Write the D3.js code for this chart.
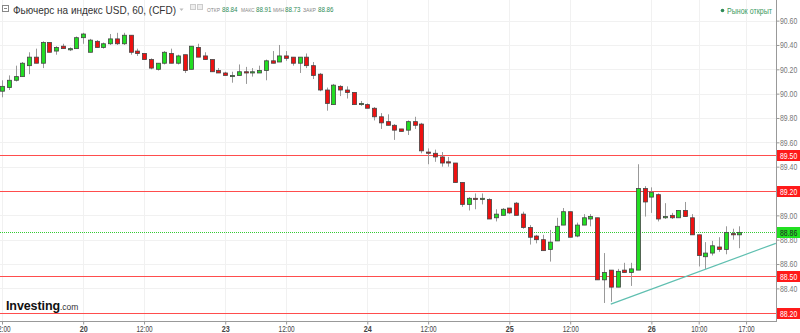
<!DOCTYPE html>
<html><head><meta charset="utf-8">
<script src="https://cdnjs.cloudflare.com/ajax/libs/d3/7.8.5/d3.min.js"></script>
<style>html,body{margin:0;padding:0;background:#fff;overflow:hidden}svg{display:block}</style>
</head><body>
<script>
// ---- data (hourly candles) ----
const openP = [90.02,90.05,90.11,90.14,90.23,90.30,90.25,90.42,90.35,90.39,
90.36,90.37,90.46,90.34,90.43,90.38,90.41,90.45,90.41,90.48,
90.35,90.33,90.28,90.20,90.25,90.33,90.25,90.32,90.20,90.38,
90.31,90.28,90.19,90.17,90.14,90.15,90.18,90.17,90.17,90.19,
90.27,90.26,90.31,90.30,90.25,90.30,90.23,90.16,90.03,89.91,
90.06,90.03,90.01,89.91,89.91,89.88,89.81,89.77,89.74,89.71,
89.70,89.77,89.75,89.52,89.51,89.48,89.44,89.43,89.27,89.09,
89.14,89.13,89.13,88.98,89.00,89.06,89.10,89.01,88.90,88.83,
88.80,88.72,88.79,88.92,89.03,88.83,88.92,88.97,88.98,88.47,
88.55,88.41,88.55,88.53,88.55,89.22,89.15,89.17,88.98,89.00,
88.98,89.04,88.98,88.84,88.66,88.69,88.74,88.72,88.85,88.84];
const highP = [90.11,90.15,90.23,90.26,90.34,90.37,90.43,90.42,90.39,90.41,
90.38,90.47,90.50,90.45,90.44,90.42,90.49,90.50,90.50,90.48,
90.37,90.33,90.29,90.25,90.35,90.37,90.32,90.32,90.39,90.41,
90.34,90.28,90.21,90.18,90.18,90.24,90.22,90.21,90.23,90.28,
90.35,90.40,90.35,90.30,90.30,90.33,90.26,90.17,90.05,90.08,
90.07,90.06,90.01,89.94,89.92,89.89,89.84,89.83,89.75,89.71,
89.78,89.81,89.76,89.55,89.54,89.52,89.48,89.43,89.27,89.15,
89.18,89.18,89.14,89.05,89.06,89.06,89.11,89.03,88.92,88.84,
88.84,88.88,88.98,89.06,89.03,88.94,89.01,89.01,88.98,88.69,
88.55,88.56,88.61,88.61,89.42,89.24,89.23,89.18,89.10,89.02,
89.04,89.11,89.01,88.84,88.78,88.79,88.82,88.91,88.89,88.91];
const lowP = [89.97,90.03,90.10,90.14,90.16,90.25,90.21,90.34,90.32,90.37,
90.35,90.37,90.41,90.34,90.38,90.37,90.40,90.40,90.40,90.32,
90.31,90.28,90.20,90.19,90.24,90.25,90.24,90.17,90.20,90.30,
90.28,90.18,90.17,90.15,90.09,90.15,90.08,90.14,90.17,90.11,
90.25,90.26,90.27,90.23,90.17,90.21,90.12,90.02,89.86,89.91,
89.98,89.96,89.91,89.90,89.88,89.78,89.71,89.74,89.62,89.69,
89.66,89.71,89.51,89.42,89.44,89.40,89.40,89.27,89.07,89.04,
89.05,89.09,88.97,88.95,89.00,89.01,89.00,88.89,88.76,88.77,
88.71,88.62,88.79,88.92,88.82,88.82,88.92,88.91,88.47,88.28,
88.29,88.41,88.53,88.42,88.55,88.99,89.02,88.95,88.97,88.97,
88.98,88.99,88.84,88.58,88.56,88.67,88.70,88.68,88.80,88.73];
const closeP = [90.06,90.11,90.14,90.25,90.30,90.25,90.42,90.34,90.38,90.37,
90.37,90.46,90.49,90.44,90.38,90.41,90.45,90.41,90.48,90.34,
90.33,90.28,90.21,90.25,90.34,90.25,90.31,90.19,90.39,90.30,
90.28,90.18,90.17,90.15,90.15,90.18,90.17,90.18,90.19,90.27,
90.25,90.31,90.29,90.25,90.30,90.23,90.15,90.03,89.92,90.07,
90.03,90.01,89.91,89.92,89.88,89.81,89.76,89.74,89.70,89.69,
89.77,89.74,89.53,89.51,89.48,89.43,89.43,89.27,89.09,89.14,
89.13,89.14,88.97,89.01,89.05,89.02,89.00,88.90,88.82,88.80,
88.71,88.78,88.91,89.03,88.82,88.92,88.98,88.99,88.47,88.53,
88.41,88.54,88.53,88.56,89.22,89.11,89.19,88.97,88.99,88.98,
89.04,88.99,88.84,88.67,88.69,88.75,88.72,88.86,88.84,88.86];

const xTickIndex  = [0, 12, 21, 33, 42, 54, 63, 75, 84, 96, 103, 110];
const xTickLabels = ["12:00","20","12:00","23","12:00","24","12:00","25","12:00","26","10:00","17:00"];
const xTickIsDay  = [false,true,false,true,false,true,false,true,false,true,false,false];
const yTicks = [90.6,90.4,90.2,90.0,89.8,89.6,89.4,89.2,89.0,88.8,88.6,88.4,88.2];
const levels = [89.50, 89.20, 88.50, 88.20];
const lastPrice = 88.86;
const trendIdx = [90, 114.4];
const trendPrice = [88.27, 88.77];

const headerTitle = "Фьючерс на индекс USD, 60, (CFD)";
const ohlcLabels = ["ОТКР","МАКС","МИН","ЗАКР"];
const ohlcValues = ["88.84","88.91","88.73","88.86"];
const marketStatus = "Рынок открыт";

// ---- drawing ----
const W = 800, H = 333;
const plotRight = 776, plotBottom = 321;
const FONT = "'Liberation Sans', Arial, sans-serif";
const NARROW = "'Liberation Sans Narrow', 'Liberation Sans', Arial, sans-serif";
const svg = d3.select("body").append("svg").attr("width", W).attr("height", H)
  .style("font-family", FONT);

function numWidth(s, dw){ let w=0; for(const c of s){ w += (c==="."||c===":")?1.7:dw; } return w; }
function fit(sel, w){ sel.attr("textLength", w).attr("lengthAdjust","spacingAndGlyphs"); return sel; }

const x = d3.scaleLinear().domain([0, 109]).range([2, 739.3]);
const y = d3.scaleLinear().domain([88.2, 89.5]).range([312.7, 154.5]);

svg.append("defs").append("clipPath").attr("id","plotclip")
  .append("rect").attr("x",0).attr("y",0).attr("width",plotRight).attr("height",plotBottom);

// grid
const grid = svg.append("g");
grid.selectAll("line.h").data(yTicks).join("line")
  .attr("x1",0).attr("x2",plotRight).attr("y1",d=>Math.round(y(d))+0.5).attr("y2",d=>Math.round(y(d))+0.5)
  .attr("stroke","#f1f1f1");
grid.selectAll("line.v").data(xTickIndex).join("line")
  .attr("x1",d=>Math.round(x(d))+0.5).attr("x2",d=>Math.round(x(d))+0.5).attr("y1",0).attr("y2",plotBottom)
  .attr("stroke","#f1f1f1");

// header
const hdr = svg.append("g");
hdr.append("rect").attr("x",2.5).attr("y",5.5).attr("width",6).attr("height",6).attr("fill","none").attr("stroke","#888");
hdr.append("line").attr("x1",4).attr("x2",7).attr("y1",8.5).attr("y2",8.5).attr("stroke","#888");
fit(hdr.append("text").attr("x",13).attr("y",13.5).attr("font-size",10.2).attr("fill","#333").text(headerTitle), 163);
hdr.append("path").attr("d","M179.5,8.5 h4 l-2,2.5 z").attr("fill","#bbb");
hdr.append("rect").attr("x",190.5).attr("y",4.5).attr("width",5).attr("height",5).attr("fill","#eee").attr("stroke","#ccc");
hdr.append("rect").attr("x",197.5).attr("y",4.5).attr("width",5).attr("height",5).attr("fill","#eee").attr("stroke","#ccc");
const ohlcX = [207, 241, 273, 303];
const ohlcLW = [13, 13.5, 11, 13];
const ohlcVX = [222, 256, 285, 318];
ohlcLabels.forEach((l,i)=>{
  fit(hdr.append("text").attr("x",ohlcX[i]).attr("y",12).attr("font-family",NARROW).attr("font-size",6).attr("fill","#888").text(l), ohlcLW[i]);
  fit(hdr.append("text").attr("x",ohlcVX[i]).attr("y",12).attr("font-family",NARROW).attr("font-size",7.4).attr("fill","#2e8b57").text(ohlcValues[i]), 15.5);
});
hdr.append("circle").attr("cx",722.5).attr("cy",10.5).attr("r",1.8).attr("fill","#2e8b57");
fit(hdr.append("text").attr("x",727).attr("y",13.5).attr("font-family",NARROW).attr("font-size",8.5).attr("fill","#3a9a60").text(marketStatus), 45);

// logo
const logo = svg.append("text").attr("x",6).attr("y",309.5);
logo.append("tspan").attr("font-size",12.5).attr("font-weight","bold").attr("fill","#111").attr("letter-spacing",-0.1).text("Investing");
logo.append("tspan").attr("font-size",8.5).attr("fill","#333").text(".com");

// level lines
const plot = svg.append("g").attr("clip-path","url(#plotclip)");
plot.selectAll("line.lvl").data(levels).join("line")
  .attr("x1",0).attr("x2",plotRight).attr("y1",d=>Math.round(y(d))+0.5).attr("y2",d=>Math.round(y(d))+0.5)
  .attr("stroke","#ff4d4d").attr("stroke-width",1);
plot.append("line").attr("x1",0).attr("x2",plotRight)
  .attr("y1",Math.round(y(lastPrice))+0.5).attr("y2",Math.round(y(lastPrice))+0.5)
  .attr("stroke","#33cc33").attr("stroke-dasharray","1,1");
// trend line
plot.append("line").attr("x1",x(trendIdx[0])).attr("y1",y(trendPrice[0]))
  .attr("x2",x(trendIdx[1])).attr("y2",y(trendPrice[1])).attr("stroke","#5fbfb0").attr("stroke-width",1.2);

// candles
const idx = d3.range(openP.length);
const cg = plot.append("g");
cg.selectAll("line.wick").data(idx).join("line")
  .attr("x1",i=>Math.round(x(i))+0.5).attr("x2",i=>Math.round(x(i))+0.5)
  .attr("y1",i=>y(highP[i])).attr("y2",i=>y(lowP[i]))
  .attr("stroke","#999");
cg.selectAll("rect.body").data(idx).join("rect")
  .attr("x",i=>Math.round(x(i))-1.5).attr("width",4)
  .attr("y",i=>y(Math.max(openP[i],closeP[i])))
  .attr("height",i=>Math.max(1, y(Math.min(openP[i],closeP[i]))-y(Math.max(openP[i],closeP[i]))))
  .attr("fill",i=>closeP[i]>=openP[i]?"#22dd22":"#ee1111")
  .attr("stroke","#444").attr("stroke-width",0.8);

// axes
svg.append("line").attr("x1",plotRight+0.5).attr("x2",plotRight+0.5).attr("y1",0).attr("y2",plotBottom+1).attr("stroke","#999");
svg.append("line").attr("x1",0).attr("x2",plotRight+1).attr("y1",plotBottom+0.5).attr("y2",plotBottom+0.5).attr("stroke","#999");

const yAxis = d3.axisRight(y).tickValues(yTicks).tickSize(3).tickFormat(d3.format(".2f"));
const ya = svg.append("g").attr("transform",`translate(${plotRight+0.5},0)`).call(yAxis);
ya.select(".domain").remove();
ya.selectAll("line").attr("stroke","#999");
ya.selectAll("text").attr("font-size",8.5).attr("fill","#777").attr("x",3.5).attr("font-family",NARROW)
  .attr("textLength",d=>numWidth(d3.format(".2f")(d),3.9)).attr("lengthAdjust","spacingAndGlyphs");

const xAxis = d3.axisBottom(x).tickValues(xTickIndex).tickSize(3).tickFormat((d,i)=>xTickLabels[i]);
const xa = svg.append("g").attr("transform",`translate(0,${plotBottom+0.5})`).call(xAxis);
xa.select(".domain").remove();
xa.selectAll("line").attr("stroke","#999");
xa.selectAll("text").attr("font-size",8.3).attr("fill","#444").attr("y",4.5).attr("dy","0.71em")
  .attr("font-weight",(d,i)=>xTickIsDay[i]?"bold":"normal").attr("font-family",NARROW)
  .attr("textLength",(d,i)=>numWidth(xTickLabels[i],3.6)+(xTickIsDay[i]?0.8:0)).attr("lengthAdjust","spacingAndGlyphs");

// price tags
const tags = svg.append("g");
levels.forEach(v=>{
  const yy = Math.round(y(v));
  tags.append("rect").attr("x",plotRight+1).attr("y",yy-5).attr("width",W-plotRight-1).attr("height",11).attr("fill","#ff1a1a");
  fit(tags.append("text").attr("x",plotRight+4).attr("y",yy+3.5).attr("font-family",NARROW).attr("font-size",8.5).attr("fill","#fff").text(v.toFixed(2)), numWidth(v.toFixed(2),3.9));
});
{
  const yy = Math.round(y(lastPrice));
  tags.append("rect").attr("x",plotRight+1).attr("y",yy-5).attr("width",W-plotRight-1).attr("height",11).attr("fill","#22e022");
  fit(tags.append("text").attr("x",plotRight+4).attr("y",yy+3.5).attr("font-family",NARROW).attr("font-size",8.5).attr("fill","#222").text(lastPrice.toFixed(2)), numWidth(lastPrice.toFixed(2),3.9));
}
</script>
</body></html>
